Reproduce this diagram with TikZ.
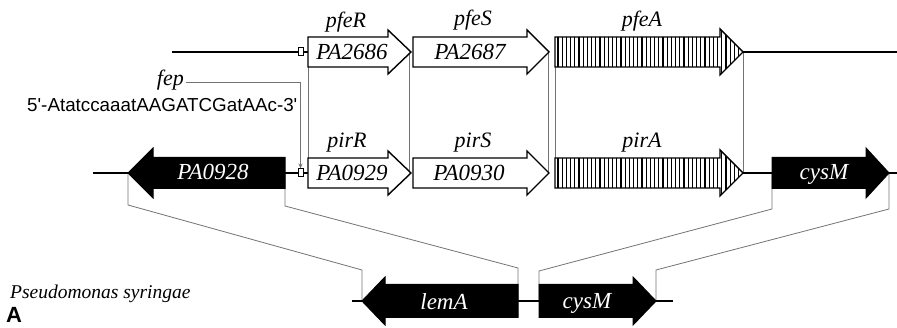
\documentclass[tikz,border=0pt]{standalone}
\usepackage{fontspec}
\setmainfont{Liberation Serif}
\newfontfamily\arialf{Liberation Sans}
\usetikzlibrary{arrows.meta}
% gene arrow outline: start x, head-back x, tip x, centre y, body half-height, head half-height
\newcommand\garrow[6]{(#1,#4-#5) -- (#2,#4-#5) -- (#2,#4-#6) -- (#3,#4) -- (#2,#4+#6) -- (#2,#4+#5) -- (#1,#4+#5) -- cycle}
\tikzset{
  backbone/.style={line width=2pt},
  whitegene/.style={draw, fill=white, line width=1.4pt, line join=miter},
  blackgene/.style={draw, fill=black, line width=1pt, line join=miter},
  hatchline/.style={line width=1.1pt},
  link/.style={draw=black!55, line width=0.8pt},
  glabel/.style={font=\fontsize{22}{24}\selectfont\itshape, anchor=base, inner sep=0pt},
  ilabel/.style={font=\fontsize{23}{25}\selectfont\itshape, anchor=base, inner sep=0pt},
  wlabel/.style={ilabel, text=white},
  sitebox/.style={draw, fill=white, line width=1pt, minimum width=5pt, minimum height=8pt, inner sep=0pt},
}
\begin{document}
\begin{tikzpicture}[x=1pt,y=-1pt]
\useasboundingbox (0,0) rectangle (897,328);

% ---------- key coordinates ----------
\coordinate (t0) at (172,52);
\coordinate (t1) at (897,52);
\coordinate (b0) at (93,173);
\coordinate (b1) at (897,173);
\coordinate (l0) at (352,301);
\coordinate (l1) at (673,301);

\coordinate (pfeRs) at (308,52);  \coordinate (pirRs) at (308,173);
\coordinate (pfeRt) at (409,52);  \coordinate (pirRt) at (409,173);
\coordinate (pfeSt) at (548,52);  \coordinate (pirSt) at (548,173);
\coordinate (pfeAs) at (555,52);  \coordinate (pirAs) at (555,173);
\coordinate (pfeAt) at (743,52);  \coordinate (pirAt) at (743,173);

\coordinate (PAtip) at (128,173); \coordinate (PAend) at (285,173);
\coordinate (cyUs) at (772,173);  \coordinate (cyUt) at (889,173);
\coordinate (lemt) at (362,301);  \coordinate (leme) at (518,301);
\coordinate (cyLs) at (539,301);  \coordinate (cyLt) at (656,301);

% ---------- linking lines (drawn first, genes cover them) ----------
\foreach \a/\b in {pfeRs/pirRs, pfeRt/pirRt, pfeSt/pirSt, pfeAs/pirAs, pfeAt/pirAt}
  \draw[link] (\a) -- (\b);
\draw[link] (PAtip) -- ++(0,32) -- ([yshift=31pt]lemt) -- (lemt);
\draw[link] (PAend) -- ++(0,33) -- ([yshift=33pt]leme) -- (leme);
\draw[link] (cyUs) -- ++(0,36) -- ([yshift=30pt]cyLs) -- (cyLs);
\draw[link] (cyUt) -- ++(0,36) -- ([yshift=31pt]cyLt) -- (cyLt);

% ---------- site boxes ----------
\node[sitebox] (s1) at (300.5,52) {};
\node[sitebox] (s2) at (300.5,173) {};

% ---------- backbones ----------
\draw[backbone] (t0) -- (s1.west);
\draw[backbone] (s1.east) -- (pfeRs);
\draw[backbone] (pfeAt) -- (t1);
\draw[backbone] (b0) -- (PAtip);
\draw[backbone] (PAend) -- (s2.west);
\draw[backbone] (s2.east) -- (pirRs);
\draw[backbone] (pirAt) -- (cyUs);
\draw[backbone] (cyUt) -- (b1);
\draw[backbone] (l0) -- (lemt);
\draw[backbone] (leme) -- (cyLs);
\draw[backbone] (cyLt) -- (l1);

% ---------- top row genes ----------
\draw[whitegene] \garrow{308}{388}{411}{52}{15}{22};
\draw[whitegene] \garrow{413}{527}{549}{52}{15}{22};
\begin{scope}
  \clip \garrow{555}{720}{743}{52}{15}{23};
  \fill[white] (550,20) rectangle (750,85);
  \foreach \x in {558,562.2,...,742} \draw[hatchline] (\x,20) -- (\x,85);
\end{scope}
\draw[whitegene, fill=none] \garrow{555}{720}{743}{52}{15}{23};

% ---------- middle row genes ----------
\draw[blackgene] \garrow{285}{153}{128}{173}{15.5}{25};
\draw[whitegene] \garrow{308}{388}{411}{173}{15}{22};
\draw[whitegene] \garrow{413}{527}{549}{173}{15}{22};
\begin{scope}
  \clip \garrow{555}{720}{743}{173}{15}{23};
  \fill[white] (550,140) rectangle (750,205);
  \foreach \x in {558,562.2,...,742} \draw[hatchline] (\x,140) -- (\x,205);
\end{scope}
\draw[whitegene, fill=none] \garrow{555}{720}{743}{173}{15}{23};
\draw[blackgene] \garrow{772}{866}{889}{173}{15.5}{25};

% ---------- bottom row genes ----------
\draw[blackgene] \garrow{518}{385}{362}{301}{16.5}{24};
\draw[blackgene] \garrow{539}{633}{656}{301}{16.5}{24};

% ---------- gene labels ----------
\node[glabel] (lpfeR) at (346,28) {pfeR};
\node[glabel] (lpfeS) at (473,26) {pfeS};
\node[glabel] (lpfeA) at (642,27) {pfeA};
\node[glabel] (lpirR) at (347,148) {pirR};
\node[glabel] (lpirS) at (473,148) {pirS};
\node[glabel] (lpirA) at (642,148) {pirA};
\node[ilabel] (lPA2686) at (352,60) {PA2686};
\node[ilabel] (lPA2687) at (470,60) {PA2687};
\node[ilabel] (lPA0929) at (352,181) {PA0929};
\node[ilabel] (lPA0930) at (469,181) {PA0930};
\node[wlabel] (lPA0928) at (213,180) {PA0928};
\node[wlabel] (lcysU) at (824,180) {cysM};
\node[wlabel] (llemA) at (444,310) {lemA};
\node[wlabel] (lcysL) at (587,309) {cysM};

% ---------- fep site ----------
\node[glabel, anchor=base east] (fep) at (184,86) {fep};
\coordinate (fepc) at (300.5,82);
\draw[link, -{Stealth[length=5pt,width=4pt]}] (fep.east |- fepc) ++(2,0) -- (fepc) -- (s2.north);
\node[font=\arialf\fontsize{18.8}{22}\selectfont, anchor=base west, inner sep=0pt] (seq) at (27,112)
  {5'-AtatccaaatAAGATCGatAAc-3'};

% ---------- species / panel ----------
\node[font=\fontsize{19.5}{22}\selectfont\itshape, anchor=base west, inner sep=0pt] (sp) at (10,299) {Pseudomonas syringae};
\node[font=\arialf\bfseries\fontsize{22}{24}\selectfont, anchor=base west, inner sep=0pt] (pA) at (6,323) {A};
\end{tikzpicture}
\end{document}
